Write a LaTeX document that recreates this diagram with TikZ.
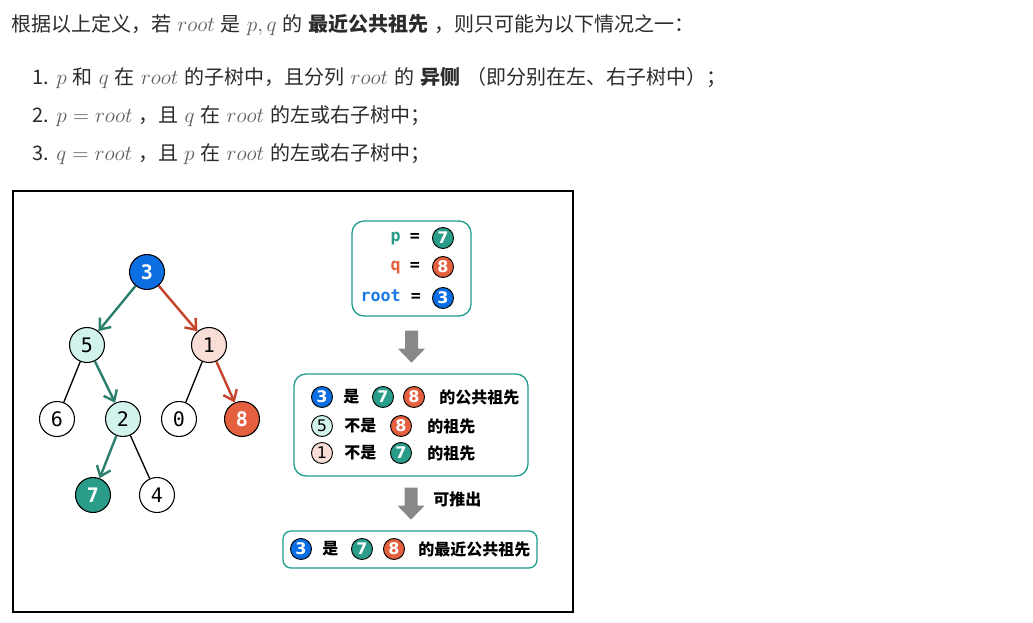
\RequirePackage{fix-cm}
\documentclass[tikz,border=0pt]{standalone}
\usepackage[no-math]{fontspec}
\setmainfont{Noto Sans CJK SC}
\newfontfamily\cjk{Noto Sans CJK SC}
\newfontfamily\mono{DejaVu Sans Mono}
\newfontfamily\dsans{DejaVu Sans}
\usetikzlibrary{arrows.meta}
\definecolor{tealc}{HTML}{2A9D8A}
\definecolor{tealline}{HTML}{2B7F6E}
\definecolor{redline}{HTML}{C4432B}
\definecolor{orangec}{HTML}{E4603F}
\definecolor{bluec}{HTML}{0B6FE3}
\definecolor{rootblue}{HTML}{1A7AE6}
\definecolor{lightc}{HTML}{D2F2EC}
\definecolor{pinkc}{HTML}{F9DED7}
\definecolor{boxc}{HTML}{1F9E8E}
\definecolor{graya}{HTML}{888888}
\definecolor{txt}{HTML}{2B2B2B}
\definecolor{mathc}{HTML}{5E5E5E}
\newcommand\m[1]{{\fontsize{16}{16}\selectfont\textcolor{mathc}{$#1$}}}
\newcommand\paraset{\cjk\fontsize{15}{18}\selectfont\spaceskip=4.5pt plus 1pt\relax}
\newcommand\grayarrow[1]{\fill[graya] (#1) ++(-4.875pt,0) -- ++(9.75pt,0) -- ++(0,-13.5pt) -- ++(5.25pt,0) -- ++(-10.125pt,-10.5pt) -- ++(-10.125pt,10.5pt) -- ++(5.25pt,0) -- cycle;}
\begin{document}
\begin{tikzpicture}[x=0.75pt,y=-0.75pt,
  tn/.style={circle,draw=black,line width=0.8pt,minimum size=26.25pt,inner sep=0pt,font=\mono\fontsize{15}{15}\selectfont},
  tnb/.style={tn,text=white,font=\mono\bfseries\fontsize{15}{15}\selectfont},
  sn/.style={circle,draw=black,line width=0.7pt,minimum size=15.75pt,inner sep=0pt,font=\dsans\fontsize{12}{12}\selectfont},
  snb/.style={sn,text=white,font=\dsans\bfseries\fontsize{12}{12}\selectfont},
  tealarr/.style={draw=tealline,line width=1.8pt,-{Straight Barb[length=7pt,width=11pt]}},
  redarr/.style={tealarr,draw=redline},
  plain/.style={draw=black,line width=1pt},
  box/.style={draw=boxc,line width=1pt,rounded corners=9pt,inner sep=0pt},
  cj/.style={font=\cjk\bfseries\fontsize{12}{14}\selectfont,inner sep=0pt,anchor=west},
  lbl/.style={font=\mono\bfseries\fontsize{12.5}{12.5}\selectfont,inner sep=0pt},
  para/.style={text=txt,inner sep=0pt,anchor=base west},
]
\useasboundingbox (0,0) rectangle (1033,623);
\fill[white] (0,0) rectangle (1033,623);
% text above
\node[para] (t0) at (11,32) {\paraset 根据以上定义，若 \m{root} 是 \m{p,q} 的 \textbf{最近公共祖先} ，则只可能为以下情况之一：};
\node[para] (t1) at (32,85) {\paraset 1. \m{p} 和 \m{q} 在 \m{root} 的子树中，且分列 \m{root} 的 \textbf{异侧} （即分别在左、右子树中）；};
\node[para] (t2) at (32,123) {\paraset 2. \m{p=root} ，且 \m{q} 在 \m{root} 的左或右子树中；};
\node[para] (t3) at (32,161) {\paraset 3. \m{q=root} ，且 \m{p} 在 \m{root} 的左或右子树中；};
% frame
\draw[line width=1.1pt] (13,191) rectangle (573,612);
% tree
\node[tnb,fill=bluec] (n3) at (147,272) {3};
\node[tn,fill=lightc] (n5) at (87,345) {5};
\node[tn,fill=pinkc] (n1) at (209,345) {1};
\node[tn,fill=white] (n6) at (57,419) {6};
\node[tn,fill=lightc] (n2) at (123,419) {2};
\node[tn,fill=white] (n0) at (179,419) {0};
\node[tnb,fill=orangec] (n8) at (242,419) {8};
\node[tnb,fill=tealc] (n7) at (93,495) {7};
\node[tn,fill=white] (n4) at (157,495) {4};
\draw[tealarr] (n3) -- (n5);
\draw[redarr] (n3) -- (n1);
\draw[plain] (n5) -- (n6);
\draw[tealarr] (n5) -- (n2);
\draw[plain] (n1) -- (n0);
\draw[redarr] (n1) -- (n8);
\draw[tealarr] (n2) -- (n7);
\draw[plain] (n2) -- (n4);
% box 1
\node[box,minimum width=89.25pt,minimum height=71.25pt] (b1) at (411.5,268.5) {};
\node[lbl,anchor=base east,text=tealc] (pl) at (401,242) {p};
\node[lbl,anchor=base] (pe) at (415,242) {=};
\node[snb,fill=tealc] (pv) at (443,238) {7};
\node[lbl,anchor=base east,text=orangec] (ql) at (401,271) {q};
\node[lbl,anchor=base] (qe) at (415,271) {=};
\node[snb,fill=orangec] (qv) at (443,267) {8};
\node[lbl,anchor=base east,text=rootblue] (rl) at (401,302) {root};
\node[lbl,anchor=base] (re) at (416,302) {=};
\node[snb,fill=bluec] (rv) at (443,298) {3};
% box 2
\node[box,minimum width=175.5pt,minimum height=76.5pt] (b2) at (411,425) {};
\node[snb,fill=bluec] (r1a) at (322,397) {3};
\node[cj] (r1b) at (343,397) {是};
\node[snb,fill=tealc] (r1c) at (383,397) {7};
\node[snb,fill=orangec] (r1d) at (414,397) {8};
\node[cj] (r1e) at (439,397) {的公共祖先};
\node[sn,fill=lightc] (r2a) at (322,426) {5};
\node[cj] (r2b) at (344,426) {不是};
\node[snb,fill=orangec] (r2c) at (401,426) {8};
\node[cj] (r2d) at (427,426) {的祖先};
\node[sn,fill=pinkc] (r3a) at (322,453) {1};
\node[cj] (r3b) at (344,453) {不是};
\node[snb,fill=tealc] (r3c) at (401,453) {7};
\node[cj] (r3d) at (427,453) {的祖先};
% box 3
\node[box,rounded corners=6pt,minimum width=190.5pt,minimum height=27.75pt] (b3) at (410,549.5) {};
\node[snb,fill=bluec] (s1) at (301,549) {3};
\node[cj] (s2) at (322,549) {是};
\node[snb,fill=tealc] (s3) at (362,549) {7};
\node[snb,fill=orangec] (s4) at (394,549) {8};
\node[cj] (s5) at (418,549) {的最近公共祖先};
% gray arrows
\grayarrow{[yshift=-10.5pt]b1.south}
\grayarrow{[yshift=-8.25pt]b2.south}
\node[cj] (inf) at (433,499) {可推出};
\end{tikzpicture}
\end{document}
